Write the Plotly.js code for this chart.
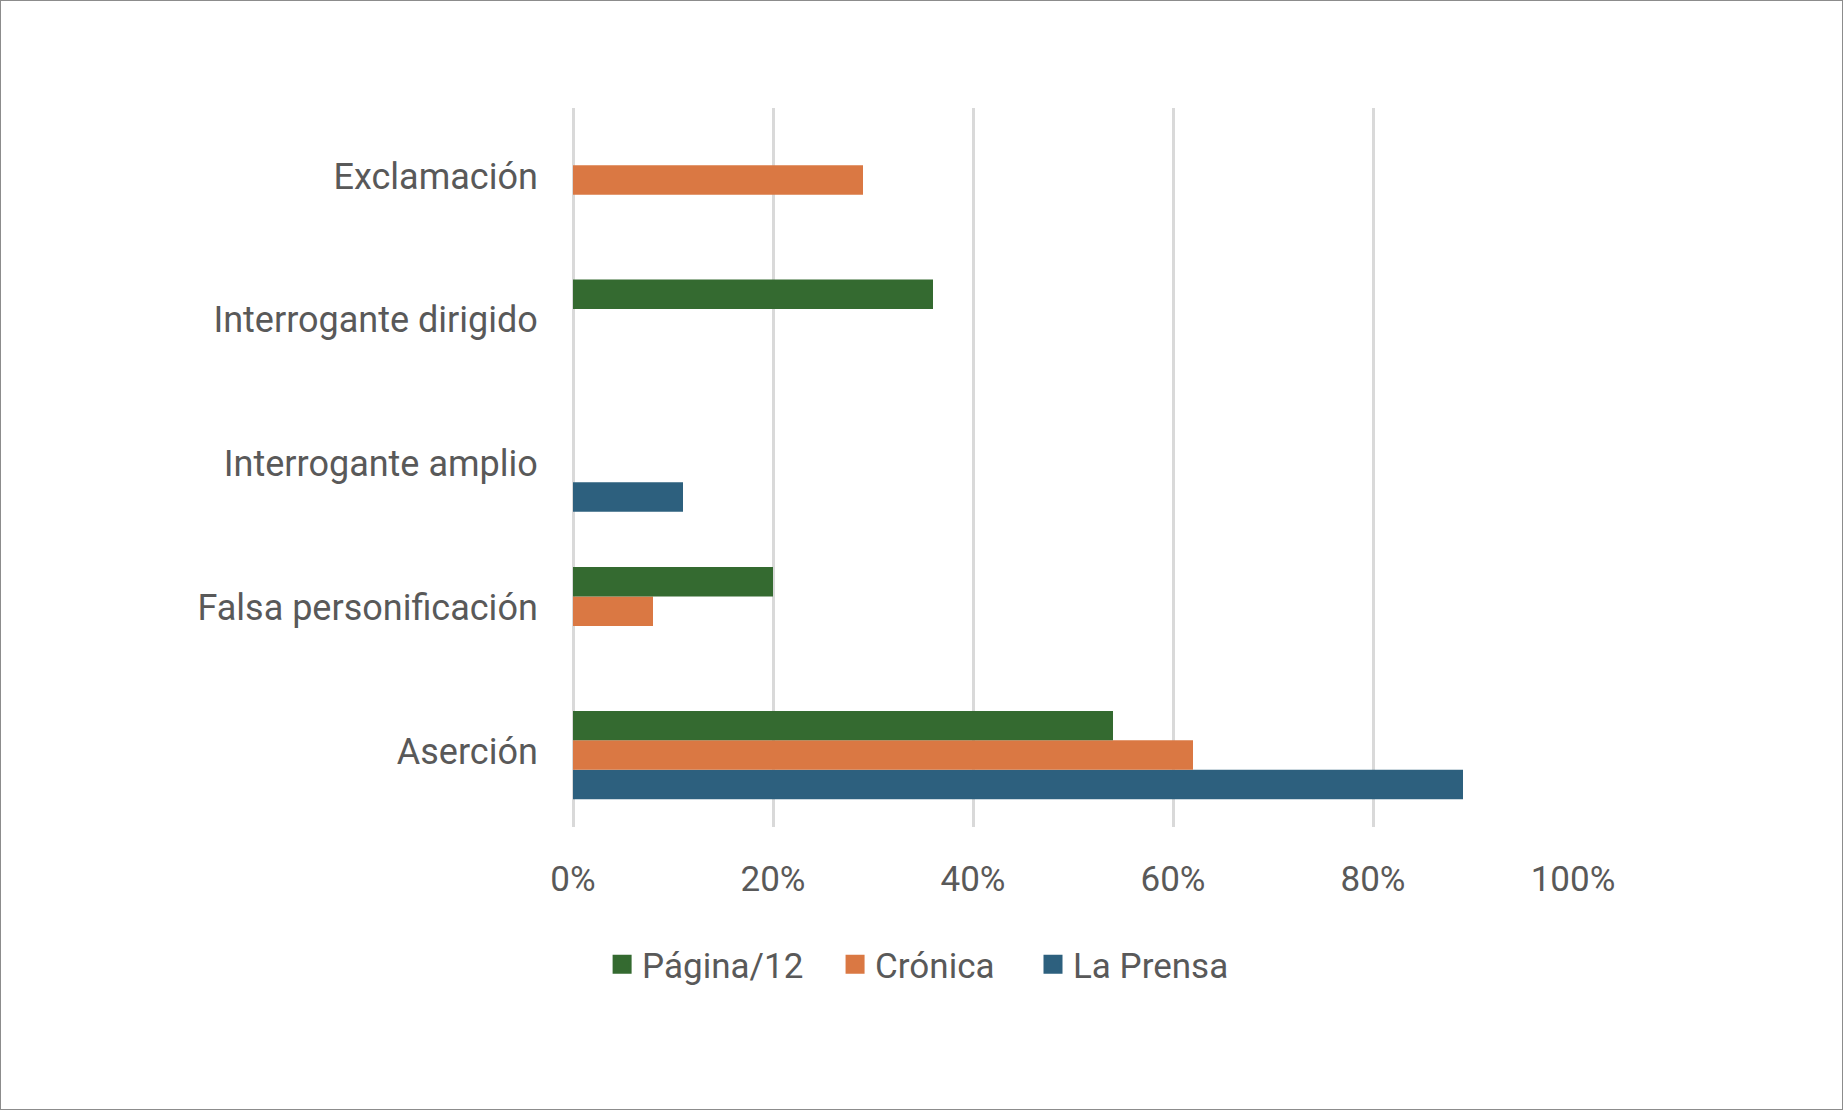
<!DOCTYPE html>
<html>
<head>
<meta charset="utf-8">
<script src="https://cdn.plot.ly/plotly-3.0.1.min.js"></script>
<style>
  html, body { margin: 0; padding: 0; background: #ffffff; }
  #wrap { position: relative; width: 1843px; height: 1110px; }
  #chart { width: 1843px; height: 1110px; }
  #frame { position: absolute; left: 0; top: 0; width: 1843px; height: 1110px; box-sizing: border-box; border: 1px solid #8c8c8c; pointer-events: none; }
</style>
</head>
<body>
<div id="wrap">
  <div id="chart"></div>
  <div id="frame"></div>
</div>
<script>
// Categories, bottom to top as drawn
const categories = ['Aserción', 'Falsa personificación', 'Interrogante amplio', 'Interrogante dirigido', 'Exclamación'];

// Series values (fractions), same order as categories
const laPrensa = [0.89, null, 0.11, null, null];
const cronica  = [0.62, 0.08, null, null, 0.29];
const pagina12 = [0.54, 0.20, null, 0.36, null];

const seriesNames = ['Página/12', 'Crónica', 'La Prensa'];
const colors = { 'Página/12': '#346a30', 'Crónica': '#da7843', 'La Prensa': '#2d607e' };

const xTickVals = [0, 0.2, 0.4, 0.6, 0.8, 1.0];
const xTickText = ['0%', '20%', '40%', '60%', '80%', '100%'];

const textColor = '#595959';
const fontFamily = 'Roboto, "Noto Sans", sans-serif';

function barTrace(name, values) {
  return {
    type: 'bar', orientation: 'h', name: name,
    y: categories, x: values,
    marker: { color: colors[name] },
    showlegend: false, hoverinfo: 'x+name'
  };
}

// Bars: first trace is drawn at the bottom of each group
const data = [
  barTrace('La Prensa', laPrensa),
  barTrace('Crónica', cronica),
  barTrace('Página/12', pagina12)
];

// Legend entries (larger square swatches), one legend box per series
const legendIds = ['legend', 'legend2', 'legend3'];
const legendX = [0.3267, 0.4531, 0.5605];
seriesNames.forEach(function (name, i) {
  data.push({
    type: 'scatter', mode: 'markers', name: name,
    x: [null], y: [null],
    legend: legendIds[i],
    marker: { symbol: 'square', size: 16, color: colors[name], line: { color: colors[name], width: 3 } },
    showlegend: true, hoverinfo: 'skip'
  });
});

function legendBox(x) {
  return {
    orientation: 'h',
    xref: 'container', x: x, xanchor: 'left',
    yref: 'paper', y: -0.1914, yanchor: 'middle',
    itemwidth: 30,
    font: { family: fontFamily, size: 35, color: textColor },
    bgcolor: 'rgba(0,0,0,0)'
  };
}

const layout = {
  width: 1843, height: 1110,
  paper_bgcolor: '#ffffff', plot_bgcolor: '#ffffff',
  margin: { l: 573, r: 270, t: 108, b: 283, pad: 0, autoexpand: false },
  font: { family: fontFamily, color: textColor, size: 35 },
  barmode: 'group',
  bargap: 0.385,
  bargroupgap: 0,
  xaxis: {
    range: [0, 1],
    automargin: false,
    tickvals: xTickVals, ticktext: xTickText, tickangle: 0,
    showgrid: true, gridcolor: '#d9d9d9', gridwidth: 3,
    zeroline: true, zerolinecolor: '#d9d9d9', zerolinewidth: 3,
    showline: false,
    ticks: 'outside', ticklen: 21, tickcolor: 'rgba(0,0,0,0)',
    tickfont: { family: fontFamily, size: 35, color: textColor },
    fixedrange: true
  },
  yaxis: {
    type: 'category',
    automargin: false,
    categoryorder: 'array', categoryarray: categories,
    showgrid: false, zeroline: false, showline: false,
    ticks: 'outside', ticklen: 27, tickcolor: 'rgba(0,0,0,0)',
    ticklabelshift: -4,
    tickfont: { family: fontFamily, size: 36, color: textColor },
    fixedrange: true
  },
  legend: legendBox(legendX[0]),
  legend2: legendBox(legendX[1]),
  legend3: legendBox(legendX[2]),
  showlegend: true
};

Plotly.newPlot('chart', data, layout, { displayModeBar: false, staticPlot: true });
</script>
</body>
</html>
